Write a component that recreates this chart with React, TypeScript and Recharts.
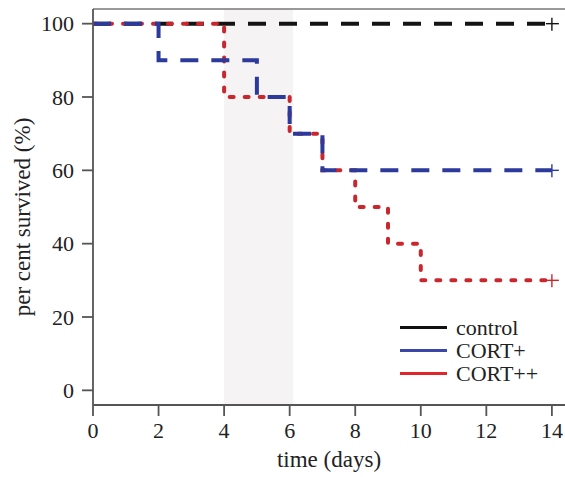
import {
  LineChart,
  Line,
  XAxis,
  YAxis,
  ReferenceArea,
  ReferenceLine,
  Legend,
  Label,
} from "recharts"

const days = [0, 2, 4, 5, 6, 7, 8, 9, 10, 14]
const control = [100, 100, 100, 100, 100, 100, 100, 100, 100, 100]
const cortPlus = [100, 90, 90, 80, 70, 60, 60, 60, 60, 60]
const cortPlusPlus = [100, 100, 80, 80, 70, 60, 50, 40, 30, 30]

const xTicks = [0, 2, 4, 6, 8, 10, 12, 14]
const yTicks = [0, 20, 40, 60, 80, 100]

const font = '"Liberation Serif", "Times New Roman", serif'

const toRows = (values: number[]) => days.map((day, i) => ({ day, value: values[i] }))

// draw order: black first, red, then blue on top
const series = [
  { name: "control", values: control, stroke: "#141414", legend: "#111111", dash: "18 13", cap: "butt" },
  { name: "CORT++", values: cortPlusPlus, stroke: "#c9272d", legend: "#e0252b", dash: "4 11", cap: "round" },
  { name: "CORT+", values: cortPlus, stroke: "#2c3a9c", legend: "#3a46a8", dash: "18 13", cap: "butt" },
]

const legendOrder = ["control", "CORT+", "CORT++"]

const censorDot = (color: string, last: number) => (props: any) => {
  const { cx, cy, index } = props
  if (index !== last) return <g key={`d-${index}`} />
  return (
    <g key={`d-${index}`} stroke={color} strokeWidth={1.4}>
      <line x1={cx - 6} y1={cy} x2={cx + 7} y2={cy} />
      <line x1={cx} y1={cy - 6} x2={cx} y2={cy + 7} />
    </g>
  )
}

const LegendBox = () => (
  <div style={{ fontFamily: font, fontSize: 22, color: "#222" }}>
    {legendOrder.map((name) => {
      const s = series.find((x) => x.name === name)!
      return (
        <div key={name} style={{ display: "flex", alignItems: "center", height: 23 }}>
          <div style={{ width: 47, height: 3, background: s.legend, marginRight: 9 }} />
          <span style={{ lineHeight: "23px" }}>{name}</span>
        </div>
      )
    })}
  </div>
)

export default function App() {
  return (
    <div style={{ position: "absolute", left: 0, top: 0, background: "#fff" }}>
      <LineChart width={565} height={477} margin={{ top: 9, right: 0, bottom: 0, left: 0 }}>
        <ReferenceArea x1={4} x2={6.1} fill="#f5f3f4" fillOpacity={1} stroke="none" />
        <ReferenceLine y={104} stroke="#777" strokeWidth={1.5} />
        <XAxis
          dataKey="day"
          type="number"
          domain={[0, 14.4]}
          ticks={xTicks}
          allowDataOverflow
          height={72}
          stroke="#555"
          strokeWidth={1.8}
          tickSize={11}
          tickMargin={6}
          tick={{ fill: "#222", fontSize: 22, fontFamily: font }}
        >
          <Label
            value="time (days)"
            position="insideBottom"
            offset={10}
            style={{ fill: "#222", fontSize: 23, fontFamily: font }}
          />
        </XAxis>
        <YAxis
          type="number"
          domain={[-4, 104]}
          ticks={yTicks}
          allowDataOverflow
          width={93}
          stroke="#555"
          strokeWidth={1.8}
          tickSize={11}
          tickMargin={8}
          tick={{ fill: "#222", fontSize: 22, fontFamily: font }}
        >
          <Label
            content={() => (
              <text
                x={22}
                y={217}
                transform="rotate(-90 22 217)"
                textAnchor="middle"
                dominantBaseline="central"
                style={{ fill: "#222", fontSize: 23, fontFamily: font }}
              >
                per cent survived (%)
              </text>
            )}
          />
        </YAxis>
        {series.map((s) => (
          <Line
            key={s.name}
            name={s.name}
            data={toRows(s.values)}
            dataKey="value"
            type="stepAfter"
            stroke={s.stroke}
            strokeWidth={4}
            strokeDasharray={s.dash}
            strokeLinecap={s.cap as any}
            dot={censorDot(s.stroke, days.length - 1)}
            activeDot={false}
            isAnimationActive={false}
          />
        ))}
        <Legend
          layout="horizontal"
          verticalAlign="middle"
          align="center"
          content={() => <LegendBox />}
          wrapperStyle={{ left: 400, top: 316, width: 160 }}
        />
      </LineChart>
    </div>
  )
}
